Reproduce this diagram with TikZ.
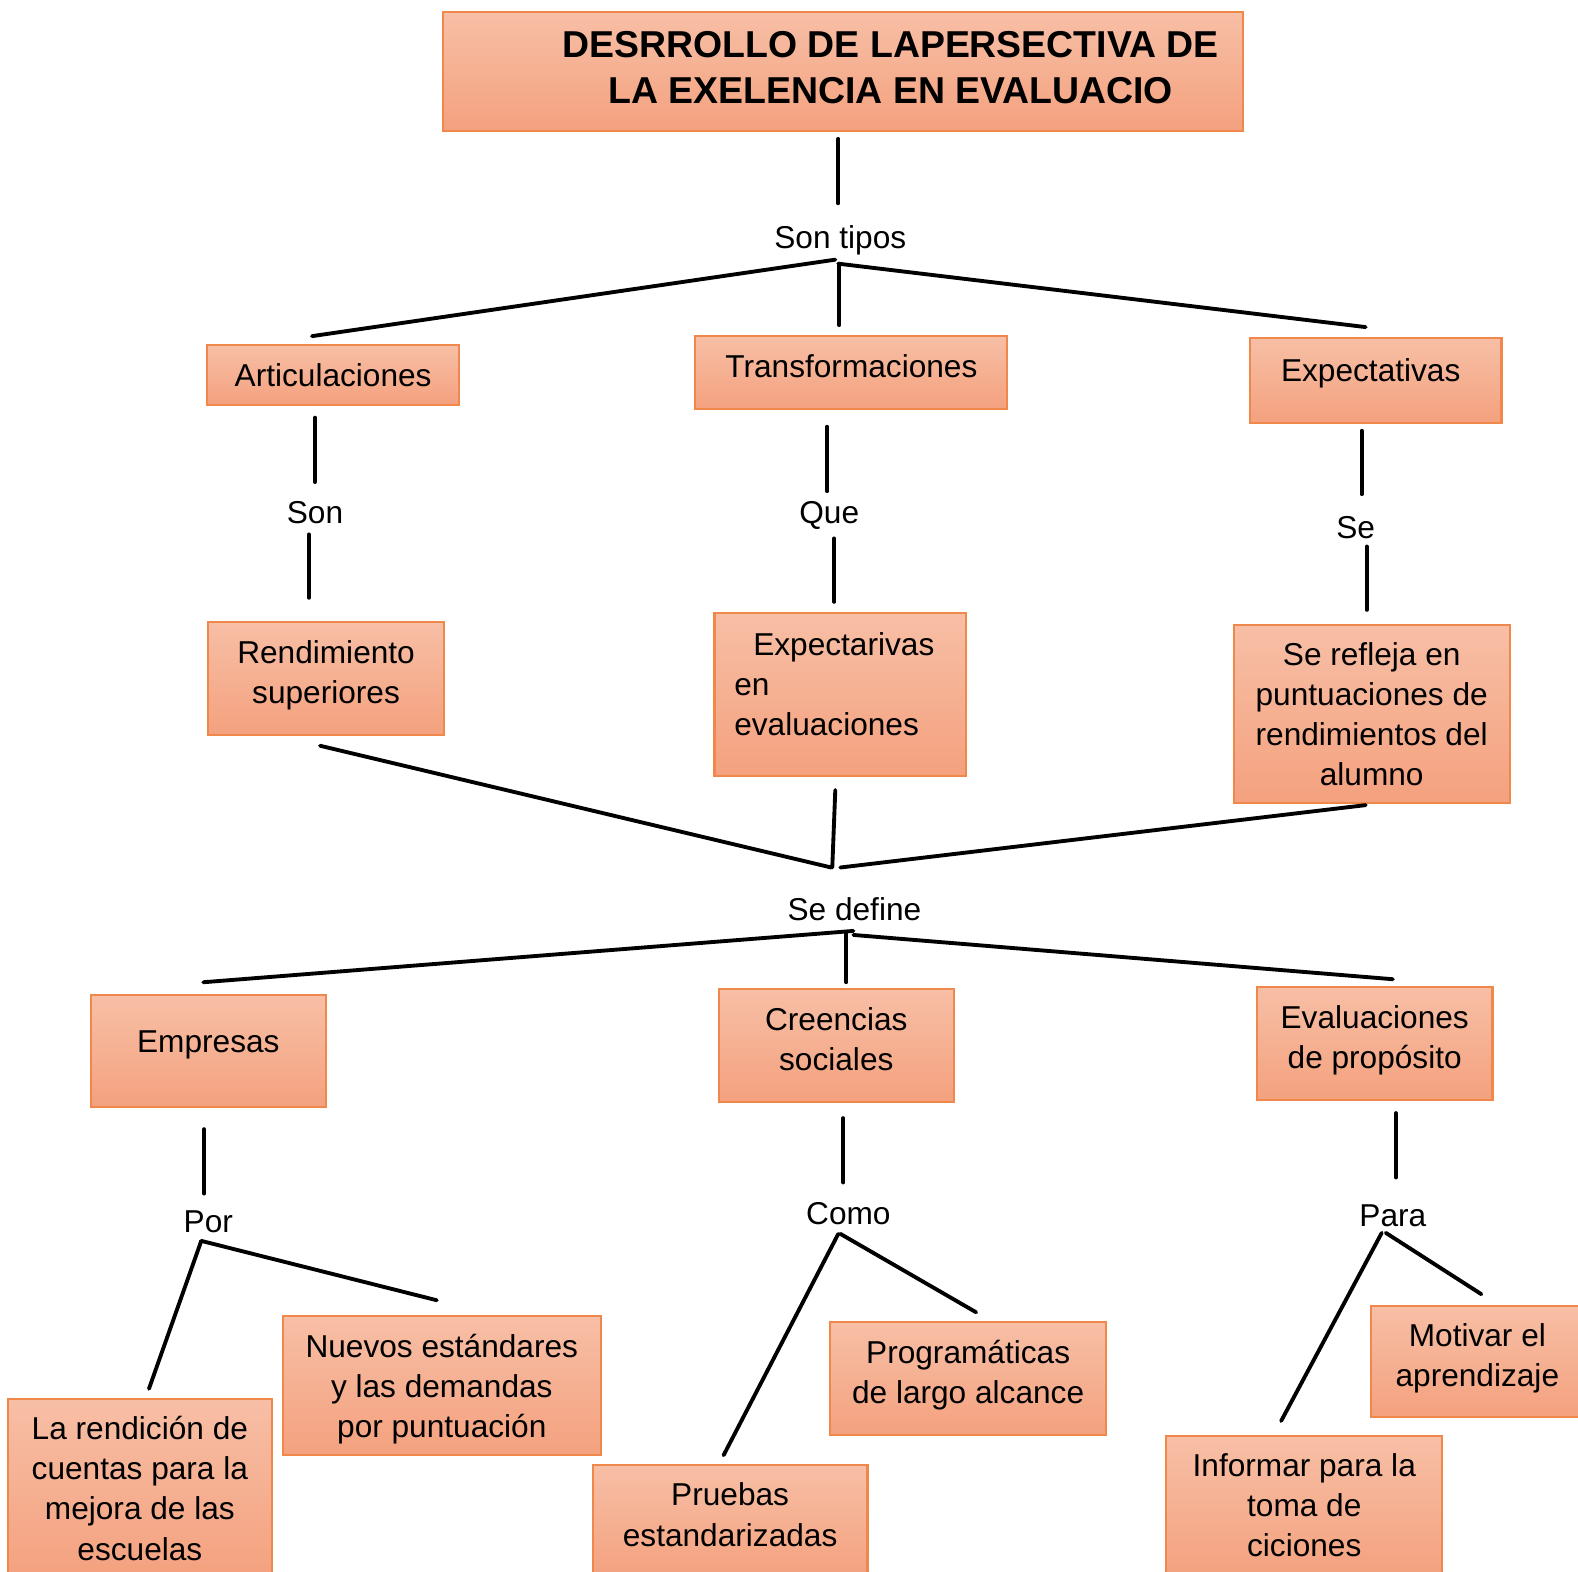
\documentclass[tikz,border=0pt]{standalone}
\usepackage{fontspec}
\setmainfont{Liberation Sans}
\definecolor{boxtop}{RGB}{247,191,166}
\definecolor{boxbot}{RGB}{244,161,126}
\definecolor{boxline}{RGB}{240,136,76}
\tikzset{
  box/.style={draw=boxline, line width=0.6pt, top color=boxtop, bottom color=boxbot, inner sep=0pt},
  size/.style 2 args={minimum width=#1*0.10064mm, minimum height=#2*0.10064mm},
  txt/.style={align=center, inner sep=0pt, font=\fontsize{9}{11.4}\selectfont},
  lbl/.style={inner sep=0pt, font=\fontsize{9}{11.4}\selectfont},
  link/.style={line width=1.1pt, line cap=round}
}
\begin{document}
\begin{tikzpicture}[x=0.10064mm, y=-0.10064mm]
  \useasboundingbox (0,0) rectangle (1568,1562);
  \clip (0,0) rectangle (1568,1562);
  % cajas
  \node[box, size={795}{118}, label={[txt, yshift=0.4mm, font=\fontsize{10.65}{12.9}\selectfont\bfseries]center:%
    \hspace*{9.56mm}DESRROLLO DE LAPERSECTIVA DE\\\hspace*{9.56mm}LA EXELENCIA EN EVALUACIO}] (title) at (837.5,71) {};
  \node[box, size={250}{59}, label={[txt]center:Articulaciones}] (art) at (331,372.5) {};
  \node[box, size={310}{72}, label={[txt, yshift=0.6mm]center:Transformaciones}] (trans) at (846,370) {};
  \node[box, size={250}{84}, label={[txt, xshift=-0.5mm, yshift=0.7mm]center:Expectativas}] (expe) at (1367,378) {};
  \node[box, size={234}{112}, label={[txt, yshift=0.3mm]center:Rendimiento\\superiores}] (rend) at (324,674) {};
  \node[box, size={250}{162}, label={[txt, align=left, xshift=-0.6mm, yshift=1mm]center:%
    \hspace*{1.9mm}Expectarivas\\en\\evaluaciones}] (expc) at (835,690) {};
  \node[box, size={274}{177}, label={[txt]center:Se refleja en\\puntuaciones de\\rendimientos del\\alumno}] (refl) at (1363,709.5) {};
  \node[box, size={234}{111}, label={[txt, yshift=0.6mm]center:Empresas}] (emp) at (207,1044.5) {};
  \node[box, size={234}{112}, label={[txt, yshift=0.6mm]center:Creencias\\sociales}] (cre) at (831,1039) {};
  \node[box, size={234}{112}, label={[txt, yshift=0.35mm]center:Evaluaciones\\de prop\'osito}] (evp) at (1366,1037) {};
  \node[box, size={262}{178}, label={[txt]center:La rendici\'on de\\cuentas para la\\mejora de las\\escuelas}] (rdc) at (139,1479) {};
  \node[box, size={316}{138}, label={[txt, yshift=-0.3mm]center:Nuevos est\'andares\\y las demandas\\por puntuaci\'on}] (nue) at (439,1377) {};
  \node[box, size={273}{112}, label={[txt, yshift=0.7mm]center:Pruebas\\estandarizadas}] (pru) at (725.5,1512) {};
  \node[box, size={274}{112}, label={[txt, yshift=0.35mm]center:Program\'aticas\\de largo alcance}] (prg) at (962,1370) {};
  \node[box, size={212}{110}, label={[txt, yshift=0.3mm]center:Motivar el\\aprendizaje}] (mot) at (1468,1353) {};
  \node[box, size={274}{142}, label={[txt, yshift=0.2mm]center:Informar para la\\toma de\\ciciones}] (inf) at (1296,1498) {};
  % palabras de enlace
  \node[lbl] (tipos) at (835,239) {Son tipos};
  \node[lbl] (son) at (313,509) {Son};
  \node[lbl] (que) at (824,512) {Que};
  \node[lbl] (se) at (1347,524) {Se};
  \node[lbl] (def) at (849,903) {Se define};
  \node[lbl] (por) at (207,1214) {Por};
  \node[lbl] (como) at (843,1206) {Como};
  \node[lbl] (para) at (1384,1208) {Para};
  % extremos de las lineas
  \coordinate (t0) at (833,138);   \coordinate (t1) at (833,202);
  \coordinate (t2) at (830,258);   \coordinate (t3) at (833,262);
  \coordinate (t4) at (834,262);
  \coordinate (a0) at (310,334);   \coordinate (b0) at (834,323);
  \coordinate (c0) at (1357,325);
  \coordinate (a1) at (313,415);   \coordinate (a2) at (313,479);
  \coordinate (a3) at (307,531);   \coordinate (a4) at (307,594);
  \coordinate (b1) at (822,424);   \coordinate (b2) at (822,488);
  \coordinate (b3) at (829,535);   \coordinate (b4) at (829,598);
  \coordinate (c1) at (1353,428);  \coordinate (c2) at (1353,491);
  \coordinate (c3) at (1358,543);  \coordinate (c4) at (1358,606);
  \coordinate (a5) at (318,741);   \coordinate (b5) at (830,785);
  \coordinate (c5) at (1357,800);
  \coordinate (m0) at (826,862);   \coordinate (m1) at (827,862);
  \coordinate (m2) at (835,862);
  \coordinate (d0) at (848,925);   \coordinate (d1) at (848,929);
  \coordinate (d2) at (841,927);
  \coordinate (e0) at (202,976);   \coordinate (f0) at (841,976);
  \coordinate (g0) at (1384,973);
  \coordinate (e1) at (203,1122);  \coordinate (e2) at (203,1186);
  \coordinate (e3) at (200,1233);  \coordinate (e4) at (148,1380);
  \coordinate (e5) at (434,1292);
  \coordinate (f1) at (838,1111);  \coordinate (f2) at (838,1175);
  \coordinate (f3) at (833,1226);  \coordinate (f4) at (719,1446);
  \coordinate (f5) at (835,1226);  \coordinate (f6) at (970,1304);
  \coordinate (g1) at (1387,1106); \coordinate (g2) at (1387,1170);
  \coordinate (g3) at (1373,1225); \coordinate (g4) at (1273,1412);
  \coordinate (g5) at (1377,1225); \coordinate (g6) at (1472,1286);
  \begin{scope}[link]
    \draw (t0) to (t1);
    \draw (t2) to (a0);
    \draw (t4) to (b0);
    \draw (t3) to (c0);
    \draw (a1) to (a2);
    \draw (a3) to (a4);
    \draw (b1) to (b2);
    \draw (b3) to (b4);
    \draw (c1) to (c2);
    \draw (c3) to (c4);
    \draw (a5) to (m0);
    \draw (b5) to (m1);
    \draw (c5) to (m2);
    \draw (d0) to (e0);
    \draw (d2) to (f0);
    \draw (d1) to (g0);
    \draw (e1) to (e2);
    \draw (e3) to (e4);
    \draw (e3) to (e5);
    \draw (f1) to (f2);
    \draw (f3) to (f4);
    \draw (f5) to (f6);
    \draw (g1) to (g2);
    \draw (g3) to (g4);
    \draw (g5) to (g6);
  \end{scope}
\end{tikzpicture}
\end{document}
